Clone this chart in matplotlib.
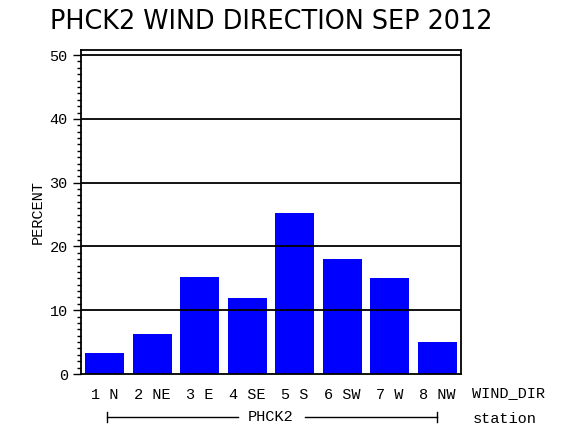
import matplotlib
matplotlib.use("Agg")
import matplotlib.pyplot as plt
from matplotlib.ticker import MultipleLocator

categories = ["1 N", "2 NE", "3 E", "4 SE", "5 S", "6 SW", "7 W", "8 NW"]
percent = [3.3, 6.3, 15.2, 11.9, 25.2, 18.0, 15.0, 5.0]
station = "PHCK2"
title = "PHCK2 WIND DIRECTION SEP 2012"

MONO = "Liberation Mono"

fig = plt.figure(figsize=(5.7, 4.3), dpi=100)
ax = fig.add_axes([81/570, 1 - 374/430, 380/570, (374-50)/430])

x = list(range(1, len(categories) + 1))
ax.bar(x, percent, width=0.82, color="#0000ff", zorder=1)
ax.set_xlim(0.5, 8.5)
ax.set_ylim(0, 50.8)
for v in [10, 20, 30, 40, 50]:
    ax.axhline(v, color="black", lw=1.3, zorder=2)

ax.yaxis.set_major_locator(MultipleLocator(10))
ax.yaxis.set_minor_locator(MultipleLocator(1))
ax.tick_params(axis="y", which="major", length=6, width=1, direction="out", labelsize=11)
ax.tick_params(axis="y", which="minor", length=3, width=1, direction="out")
ax.set_xticks(x)
ax.set_xticklabels(categories, family=MONO, fontsize=11)
ax.tick_params(axis="x", length=0, pad=10)
for lab in ax.get_yticklabels():
    lab.set_family(MONO)
for s in ax.spines.values():
    s.set_linewidth(1.3)

fig.text(38/570, 1 - 212/430, "PERCENT", rotation=90, ha="center", va="center",
         family=MONO, fontsize=11)

fig.text(271/570, 1 - 22/430, title, ha="center", va="center", fontsize=18.4)
fig.text(508/570, 1 - 393/430, "WIND_DIR", ha="center", va="center",
         family=MONO, fontsize=11)
fig.text(505/570, 1 - 419/430, "station", ha="center", va="center",
         family=MONO, fontsize=11)
fig.text(271/570, 1 - 417/430, station, ha="center", va="center",
         family=MONO, fontsize=11)
y_br = 1 - 417/430
fig.add_artist(plt.Line2D([107/570, 238/570], [y_br, y_br], color="black", lw=1))
fig.add_artist(plt.Line2D([305/570, 437/570], [y_br, y_br], color="black", lw=1))
for xb in [107, 437]:
    fig.add_artist(plt.Line2D([xb/570, xb/570], [y_br - 5/430, y_br + 5/430], color="black", lw=1))

fig.savefig("out.png", dpi=100)
